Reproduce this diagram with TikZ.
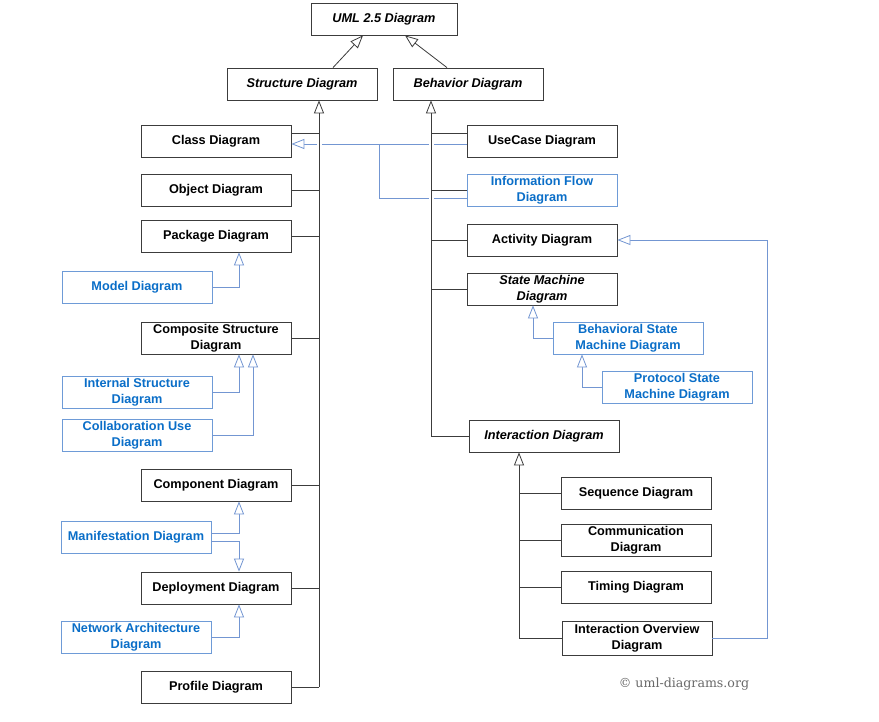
\documentclass[tikz,border=0pt]{standalone}
\usepackage{fontspec}
\setmainfont{Liberation Sans}
\newfontfamily\crfont{DejaVu Serif}
\usetikzlibrary{arrows.meta,calc}
\definecolor{boxgray}{RGB}{60,60,60}
\definecolor{linegray}{RGB}{60,60,60}
\definecolor{boxblue}{RGB}{110,155,215}
\definecolor{lineblue}{RGB}{115,150,210}
\definecolor{textblue}{RGB}{10,110,200}
\definecolor{crgray}{RGB}{105,105,105}
\tikzset{
  box/.style={draw=boxgray, line width=0.8pt, fill=white, minimum width=150pt, minimum height=32pt,
    inner sep=1pt, align=center, font=\fontsize{12.7}{15.5}\selectfont\bfseries},
  absbox/.style={box, font=\fontsize{12.7}{15.5}\selectfont\bfseries\itshape},
  bluebox/.style={box, draw=boxblue, text=textblue},
  conn/.style={draw=linegray, line width=0.8pt},
  bconn/.style={draw=lineblue, line width=0.8pt},
  gen/.style={conn, -{Triangle[open, length=13pt, width=10pt, fill=white]}},
  bgen/.style={bconn, -{Triangle[open, length=13pt, width=10pt, fill=white]}},
  gap/.style={draw=white, line width=5pt}
}
\begin{document}
\begin{tikzpicture}[x=1pt, y=-1pt]
\path[use as bounding box, fill=white] (0,0) rectangle (879,722);

% nodes
\node[absbox, minimum width=146pt] (uml) at (384,19) {UML 2.5 Diagram};
\node[absbox] (sd) at (302,84) {Structure Diagram};
\node[absbox] (bd) at (468,84) {Behavior Diagram};

\node[box] (cd) at (216,141) {Class Diagram};
\node[box] (od) at (216,190) {Object Diagram};
\node[box] (pkg) at (216,236) {Package Diagram};
\node[bluebox] (md) at (137,287) {Model Diagram};
\node[box] (csd) at (216,338) {Composite Structure\\Diagram};
\node[bluebox] (isd) at (137,392) {Internal Structure\\Diagram};
\node[bluebox] (cud) at (137,435) {Collaboration Use\\Diagram};
\node[box] (cmp) at (216,485) {Component Diagram};
\node[bluebox] (mfd) at (136,537) {Manifestation Diagram};
\node[box] (dep) at (216,588) {Deployment Diagram};
\node[bluebox] (nad) at (136,637) {Network Architecture\\Diagram};
\node[box] (prf) at (216,687) {Profile Diagram};

\node[box] (uc) at (542,141) {UseCase Diagram};
\node[bluebox] (ifd) at (542,190) {Information Flow\\Diagram};
\node[box] (act) at (542,240) {Activity Diagram};
\node[absbox] (smd) at (542,289) {State Machine\\Diagram};
\node[bluebox] (bsm) at (628,338) {Behavioral State\\Machine Diagram};
\node[bluebox] (psm) at (677,387) {Protocol State\\Machine Diagram};
\node[absbox] (int) at (544,436) {Interaction Diagram};
\node[box] (seq) at (636,493) {Sequence Diagram};
\node[box] (com) at (636,540) {Communication\\Diagram};
\node[box] (tim) at (636,587) {Timing Diagram};
\node[box, minimum height=34pt] (iod) at (637,638) {Interaction Overview\\Diagram};

\node[text=crgray, font=\crfont\fontsize{12.6}{14}\selectfont] (cr) at (684,684) {© uml-diagrams.org};

% top generalizations
\draw[gen] ([xshift=31pt]sd.north) -- ([xshift=-21pt]uml.south);
\draw[gen] ([xshift=-21pt]bd.north) -- ([xshift=21pt]uml.south);

% blue dependencies (drawn before trunks)
\coordinate (sT) at ([xshift=17pt]sd.south);
\coordinate (bT) at ([xshift=-37pt]bd.south);
\coordinate (jn) at (379,144);
\coordinate (ifb) at ([yshift=-8pt]ifd.west);
\draw[bgen] ([yshift=-3pt]uc.west) -- ([yshift=-3pt]cd.east);
\draw[bconn] (ifb) -| (jn);
\coordinate (rb) at (767,0);
\draw[bgen] (iod.east) -- (iod.east -| rb) -- (rb |- act.east) -- (act.east);

% gaps where blue lines pass the trunks
\coordinate (g1) at (sT |- jn);
\coordinate (g2) at (bT |- jn);
\coordinate (g3) at (bT |- ifb);
\draw[gap] ($(g1)+(0,-5)$) -- ($(g1)+(0,5)$);
\draw[gap] ($(g2)+(0,-5)$) -- ($(g2)+(0,5)$);
\draw[gap] ($(g3)+(0,-5)$) -- ($(g3)+(0,5)$);

% structure trunk
\draw[gen] (sT |- prf.east) -- (sT);
\draw[conn] ([yshift=8pt]cd.east) coordinate (c1) -- (c1 -| sT);
\draw[conn] (od.east) -- (od.east -| sT);
\draw[conn] (pkg.east) -- (pkg.east -| sT);
\draw[conn] (csd.east) -- (csd.east -| sT);
\draw[conn] (cmp.east) -- (cmp.east -| sT);
\draw[conn] (dep.east) -- (dep.east -| sT);
\draw[conn] (prf.east) -- (prf.east -| sT);

% behavior trunk
\draw[gen] (bT |- int.west) -- (bT);
\draw[conn] ([yshift=8pt]uc.west) coordinate (u1) -- (u1 -| bT);
\draw[conn] (ifd.west) -- (ifd.west -| bT);
\draw[conn] (act.west) -- (act.west -| bT);
\draw[conn] (smd.west) -- (smd.west -| bT);
\draw[conn] (int.west) -- (int.west -| bT);

% interaction trunk
\coordinate (iT) at ([xshift=-25pt]int.south);
\draw[gen] (iT |- iod.west) -- (iT);
\draw[conn] (seq.west) -- (seq.west -| iT);
\draw[conn] (com.west) -- (com.west -| iT);
\draw[conn] (tim.west) -- (tim.west -| iT);
\draw[conn] (iod.west) -- (iod.west -| iT);

% blue sub-generalizations (left)
\draw[bgen] (md.east) -| ([xshift=23pt]pkg.south);
\draw[bgen] (isd.east) -| ([xshift=23pt]csd.south);
\draw[bgen] (cud.east) -| ([xshift=37pt]csd.south);
\draw[bgen] ([yshift=4pt]mfd.east) -| ([xshift=23pt]cmp.south);
\draw[bgen] ([yshift=-4pt]mfd.east) -| ([xshift=23pt]dep.north);
\draw[bgen] (nad.east) -| ([xshift=23pt]dep.south);

% blue sub-generalizations (right)
\draw[bgen] (bsm.west) -| ([xshift=-9pt]smd.south);
\draw[bgen] (psm.west) -| ([xshift=-46pt]bsm.south);
\end{tikzpicture}
\end{document}
